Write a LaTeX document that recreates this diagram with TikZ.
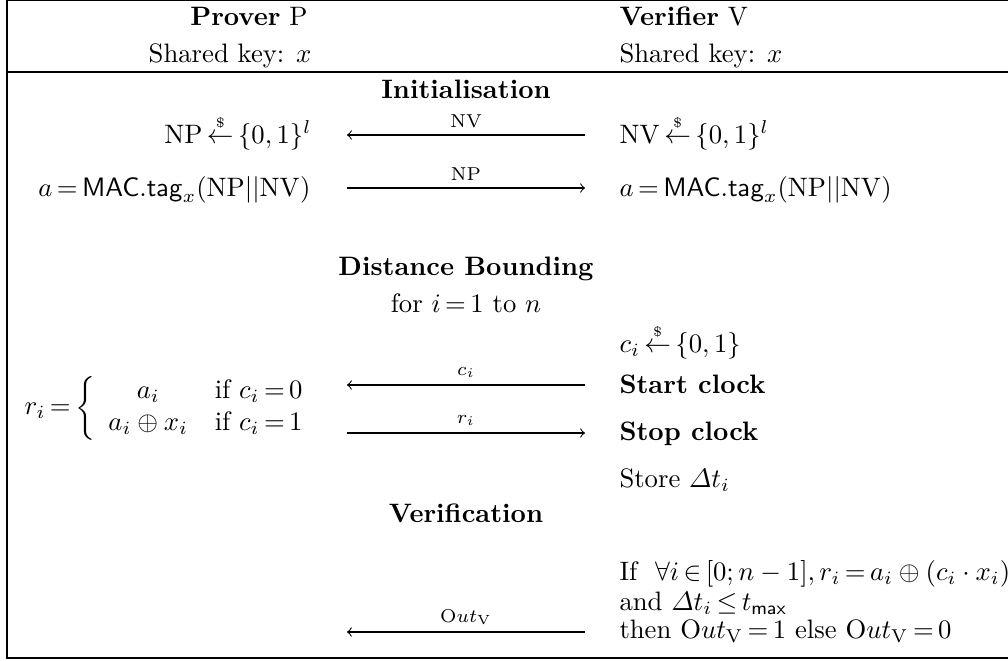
\documentclass[tikz,border=0pt]{standalone}
\usepackage{amsmath}
\newcommand\sampled{\mathrel{\overset{\scriptscriptstyle\$}{\leftarrow}}}
\newcommand\outv{\mathrm{O}ut_{\mathrm{V}}}
\tikzset{
  lt/.style={anchor=base east, inner sep=0pt},
  rt/.style={anchor=base west, inner sep=0pt},
  mid/.style={anchor=base, inner sep=0pt},
  msg/.style={->, line width=0.4pt},
  lbl/.style={font=\scriptsize, above, inner sep=2.5pt},
  frame/.style={line width=0.7pt}
}
\begin{document}
\thickmuskip=3mu plus 2mu
\begin{tikzpicture}[x=0.375pt, y=-0.375pt]
\useasboundingbox (0,0) rectangle (1008,661);
% frame
\draw[frame] (1020,0) -- (7,0) -- (7,658) -- (1020,658);
\draw[frame] (7,72) -- (1020,72);
% prover column
\node[lt] (pP) at (308,25) {\textbf{Prover} P};
\node[lt] (pK) at (312,62) {Shared key: $x$};
\node[lt] (pN) at (312,143) {$\mathrm{NP} \sampled \{0,1\}^{l}$};
\node[lt] (pA) at (311,196) {$a = \mathsf{MAC.tag}_x(\mathrm{NP}||\mathrm{NV})$};
\node[anchor=west, inner sep=0pt] (pR) at (24,408) {$r_i = \left\{\begin{array}{cl} a_i & \text{if } c_i = 0\\ a_i\oplus x_i & \text{if } c_i = 1\end{array}\right.$};
% verifier column
\node[rt] (vV) at (619,25) {\textbf{Verifier} V};
\node[rt] (vK) at (619,62) {Shared key: $x$};
\node[rt] (vN) at (619,143) {$\mathrm{NV} \sampled \{0,1\}^{l}$};
\node[rt] (vA) at (619,196) {$a = \mathsf{MAC.tag}_x(\mathrm{NP}||\mathrm{NV})$};
\node[rt] (vC) at (619,352) {$c_i \sampled \{0,1\}$};
\node[rt] (vS) at (619,393) {\textbf{Start clock}};
\node[rt] (vT) at (619,440) {\textbf{Stop clock}};
\node[rt] (vD) at (619,487) {Store $\varDelta t_i$};
\node[rt] (vI) at (619,580) {If $\ \forall i \in [0;n-1], r_i = a_i \oplus (c_i\cdot x_i)$};
\node[rt] (vAnd) at (619,610) {and $\varDelta t_i \leq t_{\mathsf{max}}$};
\node[rt] (vThen) at (619,638) {then $\outv = 1$ else $\outv = 0$};
% middle
\node[mid] (mI) at (466,98) {\textbf{Initialisation}};
\node[mid] (mD) at (466,275) {\textbf{Distance Bounding}};
\node[mid] (mF) at (466,312) {for $i = 1$ to $n$};
\node[mid] (mV) at (466,522) {\textbf{Verification}};
% message ends
\coordinate (L1) at (347,135); \coordinate (R1) at (585,135);
\coordinate (L2) at (347,188); \coordinate (R2) at (585,188);
\coordinate (L3) at (347,385); \coordinate (R3) at (585,385);
\coordinate (L4) at (347,433); \coordinate (R4) at (585,433);
\coordinate (L5) at (347,632); \coordinate (R5) at (585,632);
\draw[msg] (R1) -- node[lbl] {NV} (L1);
\draw[msg] (L2) -- node[lbl] {NP} (R2);
\draw[msg] (R3) -- node[lbl] {$c_i$} (L3);
\draw[msg] (L4) -- node[lbl] {$r_i$} (R4);
\draw[msg] (R5) -- node[lbl] {$\outv$} (L5);
\end{tikzpicture}
\end{document}
